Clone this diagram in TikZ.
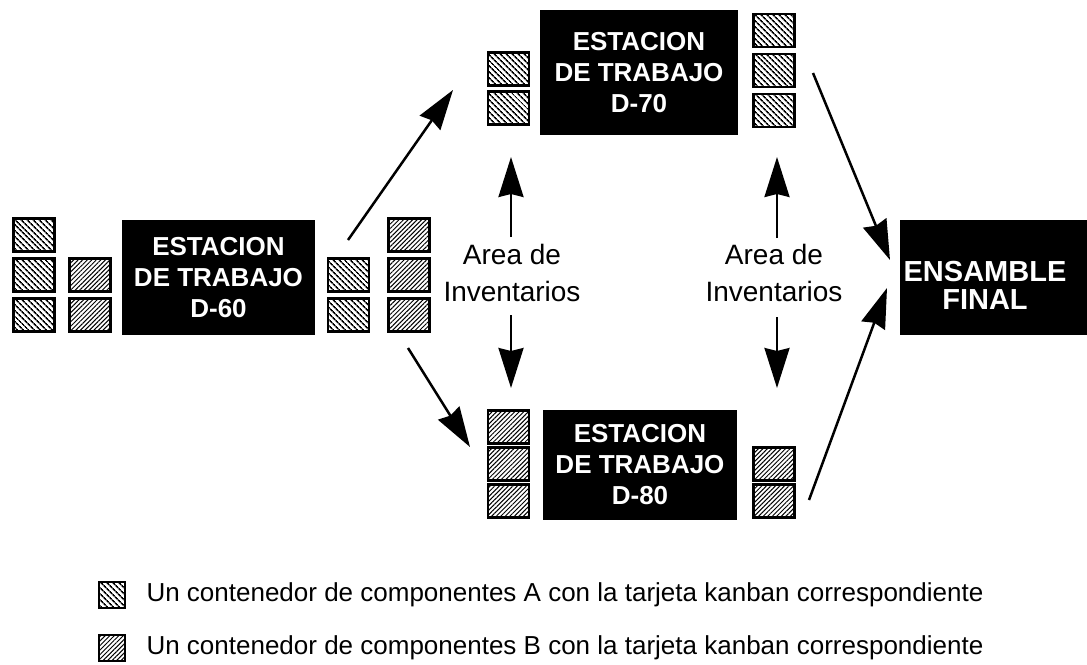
\documentclass[tikz,border=0pt]{standalone}
\usepackage{fontspec}
\setmainfont{Liberation Sans}
\usetikzlibrary{arrows.meta,patterns.meta}
\newcommand\kbx[4]{\node[#1] (#2) at (#3,#4) {};}
\begin{document}
\begin{tikzpicture}[x=1pt,y=-1pt,
  kbA/.style={draw=black, line width=2.6pt, minimum width=41pt, minimum height=33pt, inner sep=0pt,
    pattern={Lines[angle=-45,distance=4pt,line width=1.7pt]}},
  kbB/.style={draw=black, line width=2.6pt, minimum width=41pt, minimum height=33pt, inner sep=0pt,
    pattern={Lines[angle=45,distance=3.2pt,line width=1.0pt]}},
  legA/.style={kbA, minimum width=26pt, minimum height=26pt},
  legB/.style={kbB, minimum width=26pt, minimum height=26pt},
  station/.style={fill=black, text=white, inner sep=0pt, font=\bfseries\fontsize{26}{31}\selectfont, align=center},
  flow/.style={line width=2.5pt, -{Stealth[length=40pt,width=25pt,inset=3pt]}},
  lbl/.style={font=\fontsize{28}{37}\selectfont, align=center},
  leg/.style={font=\fontsize{26}{30}\selectfont, anchor=west}]
\useasboundingbox (0,0) rectangle (1087,664);
\fill[white] (0,0) rectangle (1087,664);

% stations
\node[station, minimum width=193pt, minimum height=115pt] (d60) at (218.5,277.5) {ESTACION\\DE TRABAJO\\D-60};
\node[station, minimum width=198pt, minimum height=125pt] (d70) at (639,72.5) {ESTACION\\DE TRABAJO\\D-70};
\node[station, minimum width=194pt, minimum height=110pt] (d80) at (640,465) {ESTACION\\DE TRABAJO\\D-80};
\node[station, minimum width=187pt, minimum height=115pt] (ens) at (993.5,277.5) {};
\node[text=white, font=\bfseries\fontsize{29}{28}\selectfont, align=center, inner sep=0pt] (enstxt) at (985,285) {ENSAMBLE\\FINAL};

% D-60 containers
\kbx{kbA}{a1}{34}{235}
\kbx{kbA}{a2}{34}{275}
\kbx{kbA}{a3}{34}{315}
\kbx{kbB}{b1}{90}{275}
\kbx{kbB}{b2}{90}{315}
\kbx{kbA}{a4}{348.5}{275}
\kbx{kbA}{a5}{348.5}{315}
\kbx{kbB}{b3}{409}{235}
\kbx{kbB}{b4}{409}{275}
\kbx{kbB}{b5}{409}{315}
% D-70 containers
\kbx{kbA}{a6}{508.5}{69}
\kbx{kbA}{a7}{508.5}{108}
\kbx{kbA}{a8}{774}{30.5}
\kbx{kbA}{a9}{774}{70.5}
\kbx{kbA}{a10}{774}{110.5}
% D-80 containers
\kbx{kbB}{b6}{508.5}{427}
\kbx{kbB}{b7}{508.5}{464}
\kbx{kbB}{b8}{508.5}{501}
\kbx{kbB}{b9}{774}{464}
\kbx{kbB}{b10}{774}{501}

% inventory labels
\node[lbl] (inv1) at (512,273) {Area de\\Inventarios};
\node[lbl] (inv2) at (774,273) {Area de\\Inventarios};

% connector end points
\coordinate (s1) at (348,240);  \coordinate (t1) at (453,90);
\coordinate (s2) at (408,348);  \coordinate (t2) at (470,447);
\coordinate (s3) at (813,73);   \coordinate (t3) at (890,260);
\coordinate (s4) at (809,500);  \coordinate (t4) at (887,288);
\coordinate (u1) at (511,237);  \coordinate (v1) at (511,157);
\coordinate (u2) at (511,315);  \coordinate (v2) at (511,388);
\coordinate (u3) at (777,238);  \coordinate (v3) at (777,157);
\coordinate (u4) at (777,317);  \coordinate (v4) at (777,388);

\draw[flow] (s1) -- (t1);
\draw[flow] (s2) -- (t2);
\draw[flow] (s3) -- (t3);
\draw[flow] (s4) -- (t4);
\draw[flow] (u1) -- (v1);
\draw[flow] (u2) -- (v2);
\draw[flow] (u3) -- (v3);
\draw[flow] (u4) -- (v4);

% legend
\kbx{legA}{la}{112}{595}
\kbx{legB}{lb}{112}{648}
\node[leg] (lta) at (143,595) {Un contenedor de componentes A con la tarjeta kanban correspondiente};
\node[leg] (ltb) at (143,648) {Un contenedor de componentes B con la tarjeta kanban correspondiente};
\end{tikzpicture}
\end{document}
